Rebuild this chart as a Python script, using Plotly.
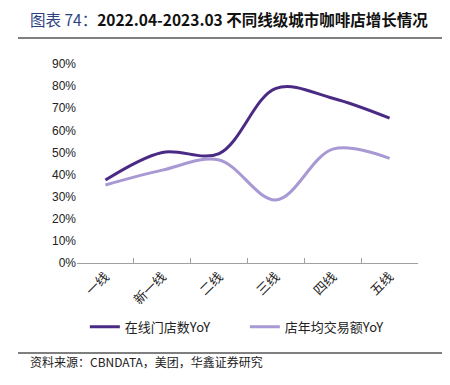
import plotly.graph_objects as go

categories = ["一线", "新一线", "二线", "三线", "四线", "五线"]
stores_yoy = [0.375, 0.50, 0.495, 0.79, 0.745, 0.655]
sales_yoy = [0.353, 0.42, 0.466, 0.285, 0.515, 0.473]
series_names = ["在线门店数YoY", "店年均交易额YoY"]
ytick_vals = [i / 10 for i in range(10)]
ytick_text = [f"{i*10}%" for i in range(10)]

FONT = "Noto Sans CJK SC, Liberation Sans, sans-serif"

fig = go.Figure()
fig.add_trace(go.Scatter(x=categories, y=stores_yoy, name=series_names[0], mode="lines",
                         line=dict(color="#4A2A85", width=3, shape="spline", smoothing=1.0)))
fig.add_trace(go.Scatter(x=categories, y=sales_yoy, name=series_names[1], mode="lines",
                         line=dict(color="#A898D4", width=3, shape="spline", smoothing=1.0)))

fig.update_layout(
    width=450, height=385,
    margin=dict(l=69, r=40, t=56, b=130),
    paper_bgcolor="white", plot_bgcolor="white",
    font=dict(family=FONT, size=12, color="#222"),
    showlegend=True,
    legend=dict(orientation="h", x=0.023, xanchor="left", y=-0.32, yanchor="middle",
                font=dict(size=13, color="#222"), entrywidth=115, entrywidthmode="pixels",
                bgcolor="rgba(0,0,0,0)"),
    xaxis=dict(type="category", showline=True, linecolor="#A0A0A0", linewidth=1,
               ticks="inside", tickson="boundaries", ticklen=5, tickcolor="#A0A0A0",
               tickangle=-45, showgrid=False, zeroline=False, automargin=False,
               tickfont=dict(size=13, color="#222"), range=[-0.5, 5.5]),
    yaxis=dict(range=[0, 0.9], tickvals=ytick_vals, ticktext=ytick_text,
               showgrid=False, zeroline=False, showline=False, ticks="", automargin=False,
               tickfont=dict(family="Liberation Sans, Arial, sans-serif", size=12, color="#222")),
)

fig.add_annotation(xref="paper", yref="paper", x=-0.145, y=1.225, xanchor="left", yanchor="middle",
                   showarrow=False,
                   text="<span style='color:#2E3F7F'>图表 74：</span><b>2022.04-2023.03 不同线级城市咖啡店增长情况</b>",
                   font=dict(family=FONT, size=15.5, color="#111"))
fig.add_shape(type="line", xref="paper", yref="paper", x0=-0.173, x1=1.085, y0=1.131, y1=1.131,
              line=dict(color="#555", width=1.5))
fig.add_shape(type="line", xref="paper", yref="paper", x0=-0.173, x1=1.085, y0=-0.452, y1=-0.452,
              line=dict(color="#555", width=1.5))
fig.add_annotation(xref="paper", yref="paper", x=-0.145, y=-0.497, xanchor="left", yanchor="middle",
                   showarrow=False, text="资料来源：CBNDATA，美团，华鑫证券研究",
                   font=dict(family=FONT, size=12, color="#222"))

fig.write_html("out.html")
